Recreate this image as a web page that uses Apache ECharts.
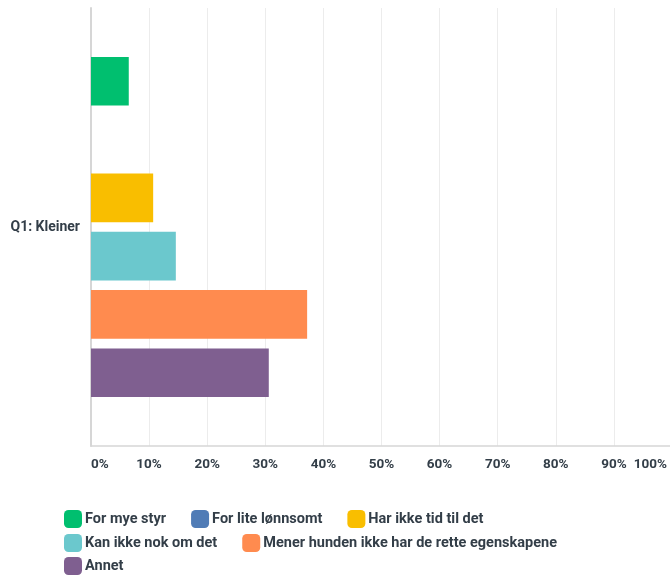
<!DOCTYPE html>
<html>
<head>
<meta charset="utf-8">
<script src="https://cdn.jsdelivr.net/npm/echarts@6/dist/echarts.min.js"></script>
<style>html,body{margin:0;padding:0;background:#fff;}#c{width:670px;height:581px;}</style>
</head>
<body>
<div id="c"></div>
<script>
const categories = ['Q1: Kleiner'];
const seriesNames = ['For mye styr', 'For lite lønnsomt', 'Har ikke tid til det', 'Kan ikke nok om det', 'Mener hunden ikke har de rette egenskapene', 'Annet'];
const seriesValues = [[6.5], [0], [10.7], [14.6], [37.2], [30.6]];
const colors = ['#00bf6f', '#507cb6', '#f9be00', '#6bc8cd', '#ff8b4f', '#7f5f90'];
const xTicks = { min: 0, max: 100, interval: 10 };

const font = 'Roboto, "Open Sans", sans-serif';
const txt = '#333e48';
const chart = echarts.init(document.getElementById('c'), null, { renderer: 'canvas' });

function legendRow(names, top) {
  return {
    data: names, left: 64, top: top, orient: 'horizontal',
    itemWidth: 18, itemHeight: 18, itemGap: 25, padding: 0,
    icon: 'roundRect',
    textStyle: { color: txt, fontFamily: font, fontWeight: 'bold', fontSize: 14.5, padding: [0, 0, 0, -2] }
  };
}

chart.setOption({
  animation: false,
  color: colors,
  grid: { left: 91, right: -2, top: 8, bottom: 135, containLabel: false, outerBoundsMode: 'none' },
  legend: [
    legendRow(seriesNames.slice(0, 3), 510),
    legendRow(seriesNames.slice(3, 5), 534),
    legendRow(seriesNames.slice(5), 557)
  ],
  xAxis: {
    type: 'value', min: xTicks.min, max: xTicks.max, interval: xTicks.interval,
    axisLine: { show: true, lineStyle: { color: '#d6d6d6', width: 1.5 } },
    axisTick: { show: false },
    splitLine: { show: true, lineStyle: { color: '#ececec', width: 1 } },
    axisLabel: {
      margin: 12, color: txt, fontFamily: font, fontWeight: 'bold', fontSize: 13.5,
      alignMinLabel: 'left', alignMaxLabel: 'right',
      formatter: function (v) { return v === 100 ? '{r|' + v + '%}' : v + '%'; },
      rich: { r: { color: txt, fontFamily: font, fontWeight: 'bold', fontSize: 13.5, padding: [0, 5, 0, 0] } }
    }
  },
  yAxis: {
    type: 'category', data: categories, inverse: true,
    axisLine: { show: true, lineStyle: { color: '#d6d6d6', width: 2 } },
    axisTick: { show: false },
    axisLabel: { margin: 11, color: txt, fontFamily: font, fontWeight: 'bold', fontSize: 14 }
  },
  series: seriesNames.map(function (n, i) {
    return {
      name: n, type: 'bar', data: seriesValues[i],
      barGap: '20%', barCategoryGap: '22.4%',
      itemStyle: { color: colors[i] }
    };
  })
});
</script>
</body>
</html>
